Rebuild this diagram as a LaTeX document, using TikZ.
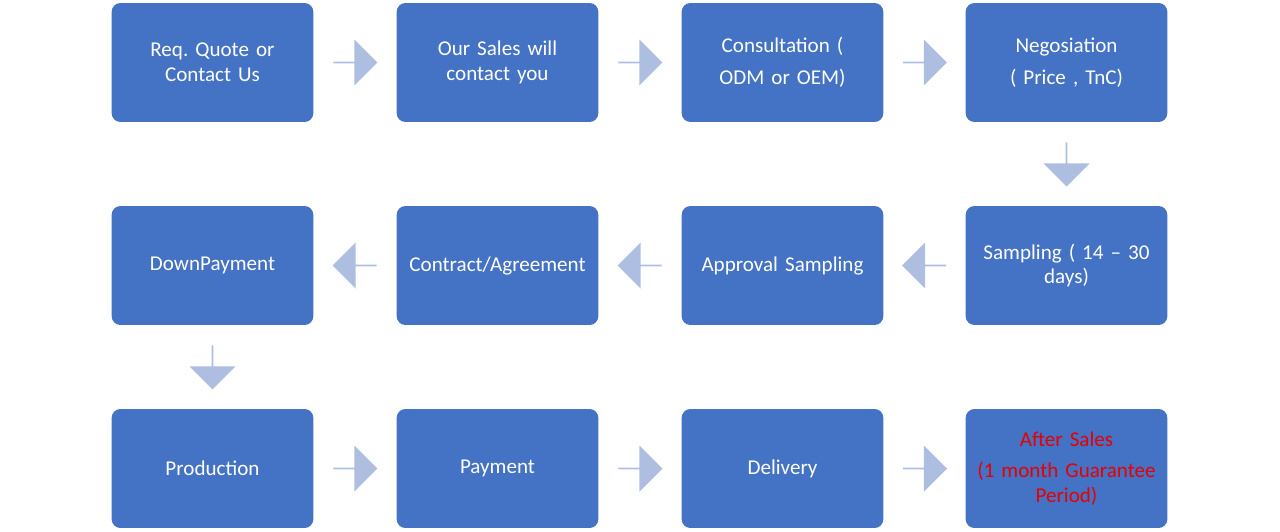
\documentclass[tikz,border=0pt]{standalone}
\usepackage{fontspec}
\setmainfont{Carlito}
\usetikzlibrary{shapes.arrows, calc, positioning}
\definecolor{StepBlue}{RGB}{68, 114, 196}
\definecolor{ArrowBlue}{RGB}{174, 190, 224}
\definecolor{AfterRed}{RGB}{230, 0, 0}
\frenchspacing

\begin{document}
\begin{tikzpicture}[x=0.02cm, y=-0.02cm,
  stepbox/.style={
    rectangle, rounded corners=5pt, fill=StepBlue,
    minimum height=2.38cm, minimum width=4.02cm,
    text width=3.8cm, align=center, text=white,
    font=\fontsize{12}{14}\selectfont
  },
  flow/.style={
    single arrow, fill=ArrowBlue, draw=none,
    minimum height=0.88cm, minimum width=0.92cm,
    single arrow head extend=0.16cm, single arrow tip angle=90,
    single arrow head indent=0pt, inner sep=0pt
  },
]
\useasboundingbox (0,0) rectangle (1280,531);
\node[stepbox] (quote) at (212.5,62.5) {Req. Quote or\\Contact Us};
\node[stepbox] (sales) at (497.5,62.5) {Our Sales will\\contact you};
\node[stepbox] (consult) at (782.5,62.5) {Consultation (\\[4pt]ODM or OEM)};
\node[stepbox] (nego) at (1066.5,62.5) {Negosiation\\[4pt]( Price , TnC)};
\node[stepbox] (sampling) at (1066.5,265.5) {Sampling ( 14 -- 30\\days)};
\node[stepbox] (approval) at (782.5,265.5) {Approval Sampling};
\node[stepbox] (contract) at (497.5,265.5) {Contract/Agreement};
\node[stepbox] (down) at (212.5,265.5) {DownPayment};
\node[stepbox] (prod) at (212.5,468.5) {Production};
\node[stepbox] (pay) at (497.5,468.5) {Payment};
\node[stepbox] (deliv) at (782.5,468.5) {Delivery};
\node[stepbox, text=AfterRed] (after) at (1066.5,468.5) {After Sales\\[4pt](1 month Guarantee\\Period)};

\node[flow] at ($(quote.east)!0.5!(sales.west)$) {};
\node[flow] at ($(sales.east)!0.5!(consult.west)$) {};
\node[flow] at ($(consult.east)!0.5!(nego.west)$) {};
\node[flow, shape border rotate=270] at ($(nego.south)!0.5!(sampling.north)$) {};
\node[flow, shape border rotate=180] at ($(sampling.west)!0.5!(approval.east)$) {};
\node[flow, shape border rotate=180] at ($(approval.west)!0.5!(contract.east)$) {};
\node[flow, shape border rotate=180] at ($(contract.west)!0.5!(down.east)$) {};
\node[flow, shape border rotate=270] at ($(down.south)!0.5!(prod.north)$) {};
\node[flow] at ($(prod.east)!0.5!(pay.west)$) {};
\node[flow] at ($(pay.east)!0.5!(deliv.west)$) {};
\node[flow] at ($(deliv.east)!0.5!(after.west)$) {};
\end{tikzpicture}
\end{document}
